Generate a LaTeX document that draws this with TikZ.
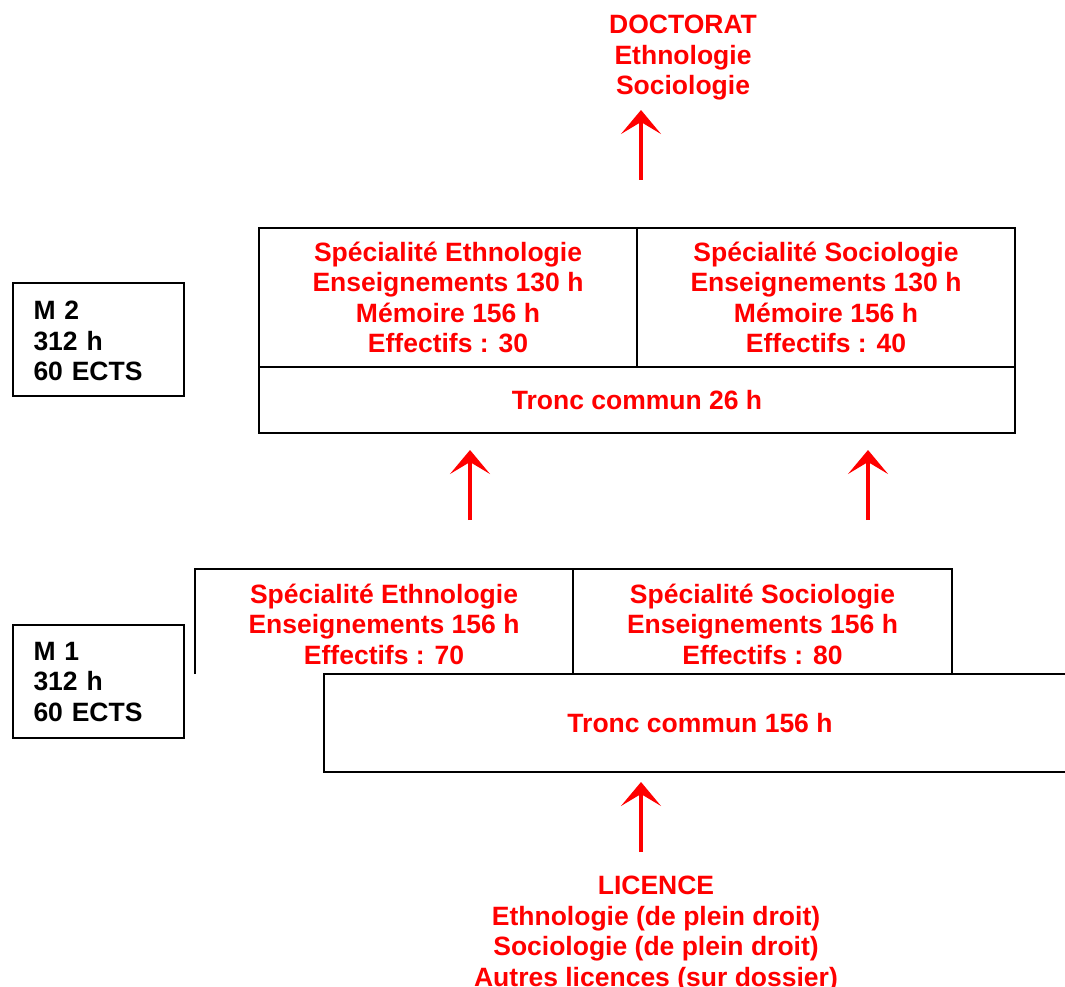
\documentclass[tikz,border=0pt]{standalone}
\usepackage{fontspec}
\setmainfont{Liberation Sans}
\usetikzlibrary{arrows.meta}
\definecolor{lred}{RGB}{255,0,0}
\begin{document}
\begin{tikzpicture}[x=1pt,y=-1pt,
  txt/.style={text=lred,font=\fontsize{26.5}{30.5}\selectfont\bfseries,align=center,inner sep=0pt},
  cell/.style={txt,draw=black,line width=2pt,minimum width=#1},
  sidetxt/.style={text=black,font=\fontsize{26.5}{30.5}\selectfont\bfseries,align=left,text width=130pt,inner sep=0pt},
  sidebox/.style={draw=black,line width=1.6pt,minimum width=171pt,minimum height=113pt,inner sep=0pt},
  frame/.style={draw=black,line width=2pt},
  uparrow/.style={draw=lred,line width=4pt,-{Stealth[length=24pt,width=40pt,inset=12pt]}}]
\useasboundingbox (0,0) rectangle (1065,987);
\clip (0,0) rectangle (1065,987);

% top text
\node[txt] (doct) at (683,58) {DOCTORAT\\Ethnologie\\Sociologie};
\coordinate (a1s) at (641,180);
\coordinate (a1e) at (641,110);
\draw[uparrow] (a1s) -- (a1e);

% M2
\node[cell=378pt,minimum height=139pt] (m2l) at (448,297.5) {Spécialité Ethnologie\\Enseignements 130 h\\Mémoire 156 h\\Effectifs : 30};
\node[cell=378pt,minimum height=139pt] (m2r) at (826,297.5) {Spécialité Sociologie\\Enseignements 130 h\\Mémoire 156 h\\Effectifs : 40};
\node[cell=756pt,minimum height=66pt] (m2t) at (637,400) {Tronc commun 26 h};
\node[sidebox] (m2box) at (98.5,339.5) {};
\node[sidetxt] (m2txt) at (98.5,341) {M 2\\312 h\\60 ECTS};

% middle arrows
\coordinate (a2s) at (470,520);
\coordinate (a2e) at (470,450);
\coordinate (a3s) at (868,520);
\coordinate (a3e) at (868,450);
\draw[uparrow] (a2s) -- (a2e);
\draw[uparrow] (a3s) -- (a3e);

% M1
\node[minimum width=378pt,minimum height=105pt,inner sep=0pt] (m1l) at (384,621.5) {};
\node[minimum width=379pt,minimum height=105pt,inner sep=0pt] (m1r) at (762.5,621.5) {};
\node[txt] (m1ltxt) at (384,624) {Spécialité Ethnologie\\Enseignements 156 h\\Effectifs : 70};
\node[txt] (m1rtxt) at (762.5,624) {Spécialité Sociologie\\Enseignements 156 h\\Effectifs : 80};
\draw[frame] (m1l.south west) -- (m1l.north west) -- (m1r.north east) -- (m1r.south east);
\draw[frame] (m1l.north east) -- (m1l.south east);
\node[cell=752pt,minimum height=98pt] (m1t) at (700,723) {Tronc commun 156 h};
\node[sidebox] (m1box) at (98.5,681.5) {};
\node[sidetxt] (m1txt) at (98.5,682) {M 1\\312 h\\60 ECTS};

% bottom
\coordinate (a4s) at (641,852);
\coordinate (a4e) at (641,782);
\draw[uparrow] (a4s) -- (a4e);
\node[txt] (lic) at (656,934) {LICENCE\\Ethnologie (de plein droit)\\Sociologie (de plein droit)\\Autres licences (sur dossier)};
\end{tikzpicture}
\end{document}
